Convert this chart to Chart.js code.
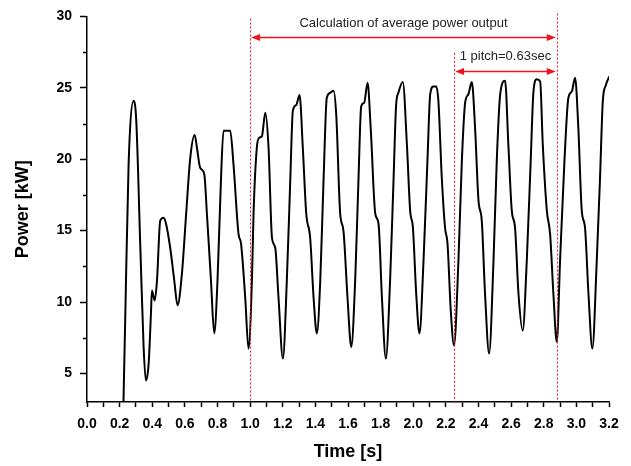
<!DOCTYPE html>
<html>
<head>
<meta charset="utf-8">
<script src="https://cdn.jsdelivr.net/npm/chart.js@4/dist/chart.umd.min.js"></script>
<style>
  html, body { margin: 0; padding: 0; background: #fff; }
  #wrap { width: 631px; height: 466px; position: relative; }
</style>
</head>
<body>
<div id="wrap"><canvas id="c" width="631" height="466"></canvas></div>
<script>
// ---- Data ----
const timeS = [
  0.220, 0.235, 0.255, 0.286, 0.302, 0.327, 0.347, 0.361, 0.378, 0.392,
  0.398, 0.415, 0.429, 0.449, 0.469, 0.484, 0.510, 0.535, 0.555, 0.582,
  0.608, 0.633, 0.660, 0.674, 0.694, 0.719, 0.735, 0.760, 0.780, 0.800,
  0.821, 0.837, 0.858, 0.878, 0.898, 0.929, 0.944, 0.970, 0.990, 1.011,
  1.021, 1.041, 1.056, 1.072, 1.093, 1.113, 1.134, 1.154, 1.174, 1.201,
  1.225, 1.246, 1.262, 1.283, 1.303, 1.323, 1.344, 1.368, 1.389, 1.409,
  1.430, 1.450, 1.470, 1.491, 1.511, 1.528, 1.552, 1.572, 1.597, 1.620,
  1.644, 1.664, 1.681, 1.699, 1.720, 1.740, 1.767, 1.787, 1.808, 1.832,
  1.858, 1.879, 1.895, 1.909, 1.936, 1.961, 1.981, 1.998, 2.018, 2.038,
  2.063, 2.087, 2.104, 2.124, 2.140, 2.154, 2.175, 2.195, 2.210, 2.230,
  2.250, 2.277, 2.298, 2.318, 2.338, 2.359, 2.379, 2.400, 2.420, 2.440,
  2.465, 2.492, 2.512, 2.533, 2.563, 2.583, 2.604, 2.624, 2.645, 2.671,
  2.696, 2.720, 2.737, 2.757, 2.778, 2.794, 2.819, 2.839, 2.859, 2.880,
  2.900, 2.927, 2.951, 2.972, 2.992, 3.012, 3.033, 3.053, 3.074, 3.098,
  3.125, 3.145, 3.162, 3.181, 3.202
];
const powerKW = [
  1.0, 9.2, 19.65, 24.1, 22.7, 13.8, 6.85, 4.5, 5.7, 9.2,
  10.8, 10.1, 11.5, 15.7, 15.9, 15.5, 13.8, 11.5, 9.77, 12.0,
  16.2, 20.1, 21.7, 20.8, 19.4, 18.95, 16.2, 11.5, 7.8, 11.5,
  18.5, 22.0, 22.0, 22.0, 19.65, 14.75, 14.1, 10.3, 6.74, 11.5,
  16.2, 20.8, 21.5, 21.6, 23.25, 20.8, 14.5, 13.8, 10.3, 6.04,
  11.5, 18.5, 23.4, 23.8, 24.5, 20.8, 16.2, 14.5, 10.3, 7.8,
  11.5, 18.5, 24.3, 24.65, 24.8, 23.1, 16.2, 15.0, 10.3, 6.85,
  11.5, 18.5, 23.7, 23.95, 25.35, 22.0, 16.2, 15.5, 10.3, 6.04,
  11.5, 18.5, 23.8, 24.65, 25.4, 21.05, 16.4, 15.2, 10.6, 7.8,
  12.9, 19.9, 24.55, 25.1, 25.1, 24.1, 18.7, 15.2, 14.1, 9.4,
  6.97, 12.9, 19.9, 23.95, 24.55, 25.4, 22.2, 17.1, 15.7, 10.6,
  6.4, 12.9, 19.9, 24.55, 25.5, 21.05, 16.4, 15.2, 10.6, 8.0,
  12.9, 19.9, 24.75, 25.6, 25.45, 21.05, 16.4, 14.75, 10.6, 7.2,
  12.9, 19.9, 24.3, 24.75, 25.7, 22.2, 16.4, 15.2, 10.6, 6.74,
  12.9, 18.7, 24.05, 25.2, 25.8
];
const xTickLabels = ['0.0','0.2','0.4','0.6','0.8','1.0','1.2','1.4','1.6','1.8',
                     '2.0','2.2','2.4','2.6','2.8','3.0','3.2'];
const yTickLabels = ['5','10','15','20','25','30'];
const yMinorTicks = [7.5, 12.5, 17.5, 22.5, 27.5];

// Annotation values (in data units)
const markerTimes = [1.0, 2.25, 2.88];
const markerTops = [29.85, 27.45, 30.2];
const avgArrow = { from: 1.0, to: 2.88, at: 28.55, label: 'Calculation of average power output', labelAt: 29.5 };
const pitchArrow = { from: 2.25, to: 2.88, at: 26.2, label: '1 pitch=0.63sec', labelAt: 27.2 };

// ---- Chart ----
const RED = 'rgb(235,20,30)';
const FONT = '"Liberation Sans", Arial, sans-serif';

function arrowHead(ctx, x, y, dir) {
  const L = 9, W = 3.5;
  ctx.beginPath();
  ctx.moveTo(x, y);
  ctx.lineTo(x - dir * L, y - W);
  ctx.lineTo(x - dir * L, y + W);
  ctx.closePath();
  ctx.fill();
}

const annotPlugin = {
  id: 'annot',
  afterDatasetsDraw(chart) {
    const ctx = chart.ctx;
    const xs = chart.scales.x, ys = chart.scales.y;
    ctx.save();
    ctx.strokeStyle = RED;
    ctx.lineWidth = 1;
    ctx.setLineDash([2, 2]);
    markerTimes.forEach((t, i) => {
      const px = Math.round(xs.getPixelForValue(t)) + 0.5;
      ctx.beginPath();
      ctx.moveTo(px, ys.getPixelForValue(markerTops[i]));
      ctx.lineTo(px, ys.getPixelForValue(ys.min));
      ctx.stroke();
    });
    ctx.setLineDash([]);
    [avgArrow, pitchArrow].forEach(a => {
      const x1 = xs.getPixelForValue(a.from) + 1;
      const x2 = xs.getPixelForValue(a.to) - 1;
      const y = Math.round(ys.getPixelForValue(a.at)) + 0.5;
      ctx.strokeStyle = RED;
      ctx.fillStyle = RED;
      ctx.lineWidth = 1.3;
      ctx.beginPath();
      ctx.moveTo(x1 + 5, y);
      ctx.lineTo(x2 - 5, y);
      ctx.stroke();
      arrowHead(ctx, x1, y, -1);
      arrowHead(ctx, x2, y, 1);
      ctx.fillStyle = '#222';
      ctx.font = '13px ' + FONT;
      ctx.textAlign = 'center';
      ctx.textBaseline = 'middle';
      ctx.fillText(a.label, (x1 + x2) / 2, ys.getPixelForValue(a.labelAt));
    });
    ctx.strokeStyle = '#000';
    ctx.lineWidth = 1.5;
    yMinorTicks.forEach(v => {
      const py = Math.round(ys.getPixelForValue(v)) + 0.5;
      ctx.beginPath();
      ctx.moveTo(xs.left - 4, py);
      ctx.lineTo(xs.left, py);
      ctx.stroke();
    });
    ctx.restore();
  }
};

const points = timeS.map((t, i) => ({ x: t, y: powerKW[i] }));

new Chart(document.getElementById('c'), {
  type: 'line',
  data: {
    datasets: [{
      data: points,
      borderColor: '#000',
      borderWidth: 2,
      pointRadius: 0,
      cubicInterpolationMode: 'monotone',
      fill: false
    }]
  },
  options: {
    responsive: false,
    animation: false,
    devicePixelRatio: 1,
    layout: { padding: { top: 15, right: 22, left: 0, bottom: 0 } },
    plugins: { legend: { display: false }, tooltip: { enabled: false } },
    scales: {
      x: {
        type: 'linear',
        min: 0, max: 3.2,
        afterBuildTicks(scale) {
          const t = [];
          for (let i = 0; i <= 32; i++) t.push({ value: i / 10 });
          scale.ticks = t;
        },
        afterFit(scale) { scale.height = 64; },
        ticks: {
          autoSkip: false,
          maxRotation: 0,
          padding: 9,
          color: '#000',
          font: { family: FONT, size: 14, weight: 'bold' },
          callback: (v, i) => (i % 2 === 0 ? xTickLabels[i / 2] : '')
        },
        grid: { drawOnChartArea: false, drawTicks: true, tickLength: 5, tickColor: '#000', tickWidth: 1.5 },
        border: { display: true, color: '#000', width: 1.5 },
        title: {
          display: true, text: 'Time [s]', color: '#000',
          font: { family: FONT, size: 18, weight: 'bold' },
          padding: { top: 0, bottom: 3 }
        }
      },
      y: {
        type: 'linear',
        min: 3, max: 30,
        afterBuildTicks(scale) {
          scale.ticks = yTickLabels.map(s => ({ value: parseFloat(s) }));
        },
        afterFit(scale) { scale.width = 87; },
        ticks: {
          padding: 8,
          color: '#000',
          font: { family: FONT, size: 14, weight: 'bold' },
          callback: (v, i) => yTickLabels[i]
        },
        grid: { drawOnChartArea: false, drawTicks: true, tickLength: 7, tickColor: '#000', tickWidth: 1.5 },
        border: { display: true, color: '#000', width: 1.5 },
        title: {
          display: true, text: 'Power [kW]', color: '#000',
          font: { family: FONT, size: 18, weight: 'bold' },
          padding: { top: 12.5, bottom: 0 }
        }
      }
    }
  },
  plugins: [annotPlugin]
});
</script>
</body>
</html>
